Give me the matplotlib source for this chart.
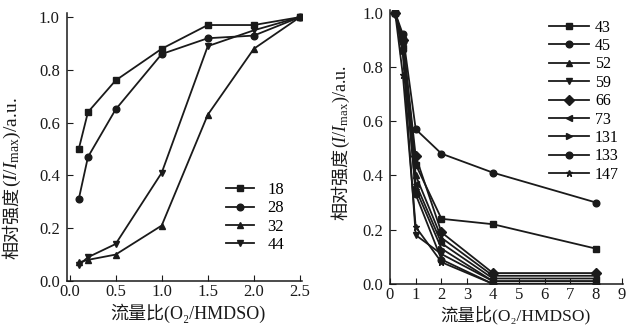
import matplotlib
matplotlib.use("Agg")
import matplotlib.pyplot as plt

plt.rcParams['font.family'] = ['Liberation Serif', 'DejaVu Serif', 'Noto Sans CJK SC']
plt.rcParams['font.size'] = 12
plt.rcParams['mathtext.fontset'] = 'custom'
plt.rcParams['mathtext.rm'] = 'Liberation Serif'
plt.rcParams['mathtext.it'] = 'Liberation Serif:italic'

# left panel: m/z 18, 28, 32, 44
x_left = [0.1, 0.2, 0.5, 1.0, 1.5, 2.0, 2.5]
m18 = [0.50, 0.64, 0.76, 0.88, 0.97, 0.97, 1.00]
m28 = [0.31, 0.47, 0.65, 0.86, 0.92, 0.93, 1.00]
m32 = [0.07, 0.08, 0.10, 0.21, 0.63, 0.88, 1.00]
m44 = [0.06, 0.09, 0.14, 0.41, 0.89, 0.95, 1.00]
labels_left = ["18", "28", "32", "44"]

# right panel
x_right = [0.2, 0.5, 1, 2, 4, 8]
m43 = [1.0, 0.90, 0.44, 0.24, 0.22, 0.13]
m45 = [1.0, 0.92, 0.57, 0.48, 0.41, 0.30]
m52 = [1.0, 0.88, 0.40, 0.17, 0.03, 0.03]
m59 = [1.0, 0.85, 0.18, 0.11, 0.01, 0.01]
m66 = [1.0, 0.90, 0.47, 0.19, 0.04, 0.04]
m73 = [1.0, 0.87, 0.37, 0.15, 0.02, 0.02]
m131 = [1.0, 0.86, 0.35, 0.13, 0.01, 0.01]
m133 = [1.0, 0.89, 0.33, 0.09, 0.00, 0.00]
m147 = [1.0, 0.77, 0.21, 0.08, 0.00, 0.00]
labels_right = ["43", "45", "52", "59", "66", "73", "131", "133", "147"]

ylab_cn = "相对强度"
ylab_en = r"($I$/$I_{\rm max}$)/a.u."
xlabel = "流量比(O₂/HMDSO)"
col = "#1a1a1a"

fig = plt.figure(figsize=(6.3, 3.29), dpi=100)
ax1 = fig.add_axes([0.106, 0.146, 0.373, 0.814])
ax2 = fig.add_axes([0.619, 0.137, 0.370, 0.833])

kw = dict(color=col, lw=1.3, ms=4.8)
for ys, mk, lab in zip([m18, m28, m32, m44], ["s", "o", "^", "v"], labels_left):
    ax1.plot(x_left, ys, marker=mk, label=lab, **kw)

series_r = [m43, m45, m52, m59, m66, m73, m131, m133, m147]
markers_r = ["s", "o", "^", "v", "D", "<", ">", "o", "*"]
for ys, mk, lab in zip(series_r, markers_r, labels_right):
    ax2.plot(x_right, ys, marker=mk, label=lab, **kw)

ax1.set_xlim(-0.03, 2.52)
ax1.set_ylim(0, 1.015)
ax1.set_xticks([0.0, 0.5, 1.0, 1.5, 2.0, 2.5])
ax1.set_yticks([0.0, 0.2, 0.4, 0.6, 0.8, 1.0])
ax2.set_xlim(0, 9.05)
ax2.set_ylim(0, 1.01)
ax2.set_xticks(range(10))
ax2.set_yticks([0.0, 0.2, 0.4, 0.6, 0.8, 1.0])

for ax in (ax1, ax2):
    ax.spines['top'].set_visible(False)
    ax.spines['right'].set_visible(False)
    ax.spines['left'].set_color(col)
    ax.spines['bottom'].set_color(col)
    ax.spines['left'].set_linewidth(1.1)
    ax.spines['bottom'].set_linewidth(1.1)
    ax.tick_params(direction='in', length=4, colors=col, labelsize=12)
    ax.tick_params(axis='x', pad=2)
    ax.tick_params(axis='y', pad=5)
    ax.yaxis.set_major_formatter(plt.FormatStrFormatter('%.1f'))

ax1.xaxis.set_major_formatter(plt.FormatStrFormatter('%.1f'))

# y labels: chinese part below the junction, latin part above
for xj, yj, en_size in [(0.020, 0.432, 14), (0.542, 0.55, 13)]:
    fig.text(xj, yj, ylab_cn, rotation=90, rotation_mode='anchor',
             ha='right', va='center', fontsize=13, color=col)
    fig.text(xj, yj, ylab_en, rotation=90, rotation_mode='anchor',
             ha='left', va='center', fontsize=en_size, color=col)

fig.text(0.298, 0.047, xlabel, ha='center', va='center', fontsize=13, color=col)
fig.text(0.818, 0.042, xlabel, ha='center', va='center', fontsize=12.5, color=col)

ax1.legend(loc='upper left', bbox_to_anchor=(0.348, 0.467), bbox_transform=fig.transFigure,
           frameon=False, handlelength=1.7, handletextpad=0.8, labelspacing=0.14,
           fontsize=12, borderaxespad=0)
ax2.legend(loc='upper left', bbox_to_anchor=(0.861, 0.96), bbox_transform=fig.transFigure,
           frameon=False, handlelength=2.5, handletextpad=0.4, labelspacing=0.15,
           fontsize=11.5, borderaxespad=0)

fig.savefig("out.png", dpi=100, facecolor="white")
